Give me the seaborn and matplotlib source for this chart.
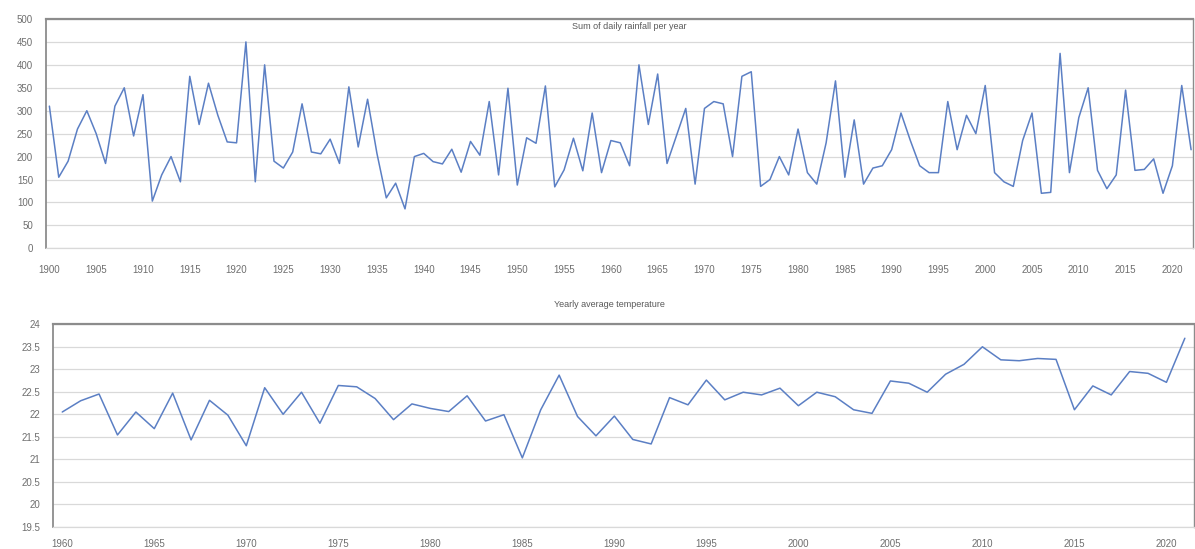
import seaborn as sns
import pandas as pd
import numpy as np
import matplotlib.pyplot as plt

sns.set_theme(style="white")
plt.rcParams['font.family'] = ['Liberation Sans', 'DejaVu Sans']

# Rainfall data, 1900-2022
rain_years = list(range(1900, 2023))
rain_values = [
    310, 155, 190, 260, 300, 250, 185, 310, 350, 245,
    335, 103, 160, 200, 145, 375, 270, 360, 290, 232,
    230, 450, 145, 400, 190, 175, 210, 315, 210, 206,
    238, 185, 352, 221, 325, 207, 110, 142, 86, 200,
    207, 189, 184, 216, 166, 233, 203, 320, 160, 349,
    138, 241, 229, 354, 134, 171, 240, 169, 295, 165,
    235, 230, 180, 400, 270, 380, 185, 245, 305, 140,
    305, 320, 315, 200, 375, 385, 135, 150, 200, 160,
    260, 165, 140, 230, 365, 155, 280, 140, 175, 180,
    215, 295, 235, 180, 165, 165, 320, 215, 290, 250,
    355, 165, 145, 135, 235, 295, 120, 122, 425, 165,
    285, 350, 170, 130, 160, 345, 170, 172, 195, 120,
    180, 355, 215,
]

# Temperature data, 1960-2021
temp_years = list(range(1960, 2022))
temp_values = [
    22.05, 22.3, 22.45, 21.54, 22.05, 21.68, 22.47, 21.43, 22.31, 21.98,
    21.3, 22.59, 22.0, 22.49, 21.8, 22.64, 22.61, 22.35, 21.88, 22.23,
    22.13, 22.06, 22.41, 21.85, 21.99, 21.03, 22.1, 22.87, 21.95, 21.52,
    21.96, 21.44, 21.34, 22.37, 22.21, 22.76, 22.32, 22.49, 22.43, 22.58,
    22.19, 22.49, 22.39, 22.1, 22.02, 22.74, 22.69, 22.49, 22.89, 23.11,
    23.5, 23.21, 23.19, 23.24, 23.22, 22.1, 22.63, 22.43, 22.95, 22.91,
    22.71, 23.69,
]

rain_df = pd.DataFrame({"year": rain_years, "rain": rain_values})
temp_df = pd.DataFrame({"year": temp_years, "temp": temp_values})

line_color = "#5b7fc4"
grid_color = "#d9d9d9"
text_color = "#6e6e6e"

fig = plt.figure(figsize=(11.95, 5.49), dpi=100)
ax1 = fig.add_axes([0.0382, 0.5477, 0.9601, 0.4177])
ax2 = fig.add_axes([0.0444, 0.0406, 0.9548, 0.3687])


def style_axis(ax):
    ax.grid(axis="y", color=grid_color, linewidth=0.9)
    ax.set_axisbelow(True)
    for side in ["left", "top", "right"]:
        ax.spines[side].set_color("#8c8c8c")
    ax.spines["top"].set_linewidth(1.6)
    ax.spines["left"].set_linewidth(1.3)
    ax.spines["right"].set_linewidth(1.0)
    ax.spines["bottom"].set_color(grid_color)
    ax.spines["bottom"].set_linewidth(0.9)
    ax.tick_params(axis="both", length=0, labelsize=7, colors=text_color)
    ax.tick_params(axis="y", pad=9)
    ax.set_xlabel("")
    ax.set_ylabel("")


# Top: rainfall
sns.lineplot(data=rain_df, x="year", y="rain", ax=ax1, color=line_color, linewidth=1.1)
ax1.set_xlim(1899.6, 2022.2)
ax1.set_ylim(0, 500)
ax1.set_yticks(range(0, 501, 50))
ax1.set_xticks(range(1900, 2021, 5))
style_axis(ax1)
ax1.tick_params(axis="x", pad=12)
ax1.text(0.509, 0.985, "Sum of daily rainfall per year", transform=ax1.transAxes,
         ha="center", va="top", fontsize=6.5, color="#595959")

# Bottom: temperature
sns.lineplot(data=temp_df, x="year", y="temp", ax=ax2, color=line_color, linewidth=1.1)
ax2.set_xlim(1959.5, 2021.5)
ax2.set_ylim(19.5, 24)
ax2.set_yticks(np.arange(19.5, 24.01, 0.5))
ax2.set_yticklabels([f"{v:g}" for v in np.arange(19.5, 24.01, 0.5)])
ax2.set_xticks(range(1960, 2021, 5))
style_axis(ax2)
ax2.tick_params(axis="x", pad=9)
ax2.text(0.488, 1.1, "Yearly average temperature", transform=ax2.transAxes,
         ha="center", va="center", fontsize=6.5, color="#595959")

fig.savefig("out.png", dpi=100)
